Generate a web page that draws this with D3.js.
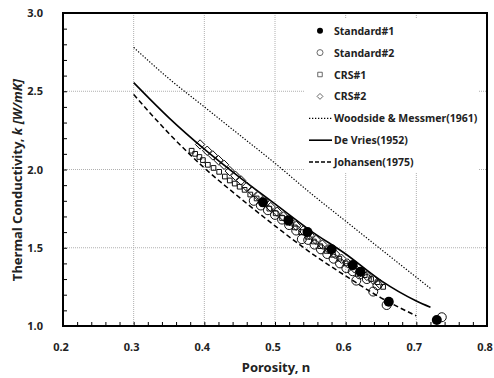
<!DOCTYPE html>
<html>
<head>
<meta charset="utf-8">
<script src="https://cdn.jsdelivr.net/npm/d3@7"></script>
<style>
  body { margin: 0; background: #fff; }
  svg text { font-family: "Noto Sans", "DejaVu Sans", sans-serif; font-weight: bold; fill: #222; }
</style>
</head>
<body>
<svg id="chart" width="494" height="378"></svg>
<script>
// measured series: [porosity n, thermal conductivity k]
const standard1 = [[0.483,1.79],[0.519,1.675],[0.546,1.60],[0.58,1.49],[0.61,1.39],[0.621,1.347],[0.661,1.155],[0.729,1.038]];
const standard2 = [[0.47,1.80],[0.48,1.77],[0.49,1.74],[0.50,1.71],[0.51,1.68],[0.52,1.645],[0.53,1.61],[0.538,1.555],
  [0.547,1.55],[0.556,1.52],[0.565,1.49],[0.574,1.46],[0.583,1.43],[0.592,1.40],[0.601,1.37],[0.61,1.35],
  [0.615,1.29],[0.62,1.33],[0.63,1.30],[0.639,1.22],[0.645,1.26],[0.658,1.134],[0.736,1.056]];
const crs1 = [[0.382,2.12],[0.387,2.10],[0.393,2.08],[0.398,2.06],[0.405,2.03],[0.413,2.01],[0.421,1.985],[0.429,1.955],
  [0.436,1.93],[0.443,1.91],[0.45,1.89],[0.457,1.87],[0.465,1.84],[0.474,1.815],[0.483,1.78],[0.492,1.75],
  [0.501,1.72],[0.51,1.69],[0.519,1.66],[0.528,1.63],[0.537,1.60],[0.546,1.57],[0.555,1.54],[0.564,1.51],
  [0.573,1.48],[0.582,1.455],[0.591,1.43],[0.6,1.40],[0.609,1.375],[0.618,1.35],[0.627,1.325],[0.636,1.30],
  [0.645,1.28],[0.653,1.25]];
const crs2 = [[0.394,2.16],[0.404,2.12],[0.412,2.09],[0.42,2.06],[0.428,2.03],[0.436,1.99],[0.444,1.96],[0.452,1.93],
  [0.46,1.89],[0.468,1.86],[0.476,1.83],[0.485,1.80],[0.494,1.76],[0.503,1.73],[0.512,1.70],[0.521,1.67],
  [0.53,1.64],[0.54,1.61],[0.549,1.58],[0.558,1.55],[0.567,1.52],[0.576,1.49],[0.585,1.46],[0.594,1.43],
  [0.603,1.40],[0.612,1.37],[0.621,1.345],[0.63,1.32],[0.639,1.295],[0.648,1.27]];

// model curves
const woodside = [[0.30,2.78],[0.35,2.58],[0.40,2.40],[0.45,2.22],[0.50,2.04],[0.55,1.85],[0.60,1.67],[0.65,1.49],[0.72,1.24]];
const deVries = [[0.30,2.555],[0.35,2.33],[0.40,2.13],[0.45,1.95],[0.50,1.78],[0.55,1.61],[0.60,1.46],[0.65,1.29],[0.70,1.16],[0.72,1.12]];
const johansen = [[0.30,2.48],[0.35,2.23],[0.40,2.01],[0.45,1.82],[0.50,1.64],[0.55,1.47],[0.60,1.32],[0.65,1.18],[0.70,1.065]];

const xTicks = [0.2,0.3,0.4,0.5,0.6,0.7,0.8];
const yTicks = [1.0,1.5,2.0,2.5,3.0];

const legendItems = ["Standard#1","Standard#2","CRS#1","CRS#2","Woodside & Messmer(1961)","De Vries(1952)","Johansen(1975)"];

const margin = {top: 13, right: 7, bottom: 52, left: 63};
const width = 494, height = 378;
const svg = d3.select("#chart");

const x = d3.scaleLinear().domain([0.2, 0.8]).range([margin.left, width - margin.right]);
const y = d3.scaleLinear().domain([1.0, 3.0]).range([height - margin.bottom, margin.top]);

// grid
const grid = svg.append("g").attr("stroke", "#b0b0b0").attr("stroke-width", 1).attr("stroke-dasharray", "1,1");
grid.selectAll("line.gx").data(xTicks.slice(1, -1)).join("line")
  .attr("x1", d => x(d)).attr("x2", d => x(d)).attr("y1", y(1)).attr("y2", y(3));
grid.selectAll("line.gy").data(yTicks.slice(1, -1)).join("line")
  .attr("y1", d => y(d)).attr("y2", d => y(d)).attr("x1", x(0.2)).attr("x2", x(0.8));

// minor ticks, inside
const axisB = d3.axisBottom(x).tickValues(d3.range(0.2, 0.8001, 0.02)).tickSize(-4).tickFormat("");
svg.append("g").attr("transform", `translate(0,${y(1)})`).call(axisB)
  .call(g => g.select(".domain").remove());
const axisL = d3.axisLeft(y).tickValues(d3.range(1.0, 3.0001, 0.1)).tickSize(-4).tickFormat("");
svg.append("g").attr("transform", `translate(${x(0.2)},0)`).call(axisL)
  .call(g => g.select(".domain").remove());

// tick labels
svg.append("g").selectAll("text").data(xTicks).join("text")
  .attr("x", d => x(d) - 2).attr("y", y(1) + 25).attr("text-anchor", "middle")
  .attr("font-size", 11).text(d => d.toFixed(1));
svg.append("g").selectAll("text").data(yTicks).join("text")
  .attr("x", x(0.2) - 20).attr("y", d => y(d) + 4).attr("text-anchor", "end")
  .attr("font-size", 11).text(d => d.toFixed(1));

// legend backdrop hides the grid beneath it
svg.append("rect").attr("x", 305).attr("y", 18).attr("width", 173).attr("height", 154).attr("fill", "#fff");

// curves
const line = d3.line().x(d => x(d[0])).y(d => y(d[1])).curve(d3.curveMonotoneX);
svg.append("path").datum(woodside).attr("d", line).attr("fill", "none")
  .attr("stroke", "#000").attr("stroke-width", 1.2).attr("stroke-dasharray", "1.3,1.7");
svg.append("path").datum(deVries).attr("d", line).attr("fill", "none")
  .attr("stroke", "#000").attr("stroke-width", 1.6);
svg.append("path").datum(johansen).attr("d", line).attr("fill", "none")
  .attr("stroke", "#000").attr("stroke-width", 1.5).attr("stroke-dasharray", "5,3");

// markers
const diamond = d3.symbol().type(d3.symbolDiamond2).size(56);
const square = d3.symbol().type(d3.symbolSquare2).size(28);
svg.append("g").selectAll("path").data(crs2).join("path")
  .attr("transform", d => `translate(${x(d[0])},${y(d[1])})`).attr("d", diamond)
  .attr("fill", "none").attr("stroke", "#111").attr("stroke-width", 1);
svg.append("g").selectAll("path").data(crs1).join("path")
  .attr("transform", d => `translate(${x(d[0])},${y(d[1])})`).attr("d", square)
  .attr("fill", "none").attr("stroke", "#111").attr("stroke-width", 1);
svg.append("g").selectAll("circle").data(standard2).join("circle")
  .attr("cx", d => x(d[0])).attr("cy", d => y(d[1])).attr("r", 4.5)
  .attr("fill", "none").attr("stroke", "#111").attr("stroke-width", 1);
svg.append("g").selectAll("circle").data(standard1).join("circle")
  .attr("cx", d => x(d[0])).attr("cy", d => y(d[1])).attr("r", 5)
  .attr("fill", "#000");

// frame
svg.append("rect").attr("x", x(0.2)).attr("y", y(3)).attr("width", x(0.8) - x(0.2)).attr("height", y(1) - y(3))
  .attr("fill", "none").attr("stroke", "#000").attr("stroke-width", 2);

// legend
const lg = svg.append("g");
const ly = i => 30.7 + i * 21.9;
lg.selectAll("text").data(legendItems).join("text")
  .attr("x", 334).attr("y", (d, i) => ly(i) + 4).attr("font-size", 10.5).text(d => d);
lg.append("circle").attr("cx", 320).attr("cy", ly(0)).attr("r", 3).attr("fill", "#000");
lg.append("circle").attr("cx", 320).attr("cy", ly(1)).attr("r", 3).attr("fill", "none").attr("stroke", "#444").attr("stroke-width", 0.8);
lg.append("path").attr("transform", `translate(320,${ly(2)})`).attr("d", d3.symbol().type(d3.symbolSquare2).size(26))
  .attr("fill", "none").attr("stroke", "#444").attr("stroke-width", 0.8);
lg.append("path").attr("transform", `translate(320,${ly(3)})`).attr("d", d3.symbol().type(d3.symbolDiamond2).size(22))
  .attr("fill", "none").attr("stroke", "#444").attr("stroke-width", 0.8);
lg.append("line").attr("x1", 309).attr("x2", 332).attr("y1", ly(4)).attr("y2", ly(4))
  .attr("stroke", "#000").attr("stroke-width", 1.2).attr("stroke-dasharray", "1.3,1.7");
lg.append("line").attr("x1", 309).attr("x2", 332).attr("y1", ly(5)).attr("y2", ly(5))
  .attr("stroke", "#000").attr("stroke-width", 1.6);
lg.append("line").attr("x1", 309).attr("x2", 332).attr("y1", ly(6)).attr("y2", ly(6))
  .attr("stroke", "#000").attr("stroke-width", 1.5).attr("stroke-dasharray", "4,2");

// axis titles
svg.append("text").attr("x", 276).attr("y", 372).attr("text-anchor", "middle")
  .attr("font-size", 13).text("Porosity, n");
const yt = svg.append("text").attr("transform", "translate(22,180) rotate(-90)")
  .attr("text-anchor", "middle").attr("font-size", 13);
yt.append("tspan").text("Thermal Conductivity, ");
yt.append("tspan").attr("font-style", "italic").text("k [W/mK]");
</script>
</body>
</html>
